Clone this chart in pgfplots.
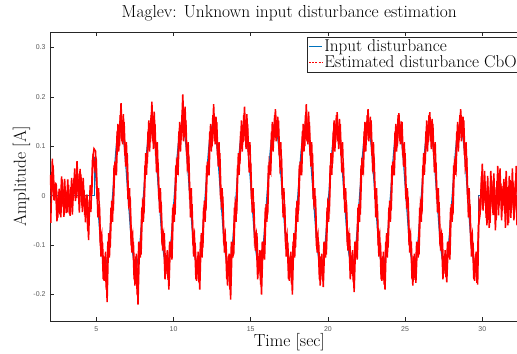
\documentclass[border=0pt]{standalone}
\usepackage{fontspec}
\usepackage{pgfplots}
\pgfplotsset{compat=1.18}
\newfontfamily\tickfont{Liberation Sans}
\definecolor{mblue}{RGB}{0,114,189}
\begin{document}
\begin{tikzpicture}
\clip (-50bp,-33bp) rectangle (467bp,321bp);
\begin{axis}[
  at={(0,0)}, anchor=south west,
  scale only axis, width=478.6bp, height=289bp,
  xmin=2, xmax=33, ymin=-0.2534, ymax=0.331,
  xtick={5,10,15,20,25,30}, xticklabels={5,10,15,20,25,30},
  ytick={-0.2,-0.1,0,0.1,0.2,0.3}, yticklabels={-0.2,-0.1,0,0.1,0.2,0.3},
  tick align=inside, major tick length=4.5bp,
  tick style={black!85, line width=0.5pt},
  axis line style={black!85, line width=0.6pt},
  ticklabel style={font=\tickfont\fontsize{7}{8}\selectfont, text=black!65},
  xticklabel style={yshift=-2bp},
  yticklabel style={xshift=-1bp},
  title={Maglev: Unknown input disturbance estimation},
  title style={font=\fontsize{17.5}{20}\selectfont, at={(axis description cs:0.5,1)}, anchor=base, yshift=8.5bp},
  xlabel={Time [sec]},
  xlabel style={font=\fontsize{17.5}{20}\selectfont, at={(axis description cs:0.5,0)}, anchor=base, yshift=-25.7bp},
  ylabel={Amplitude [A]},
  ylabel style={font=\fontsize{17.5}{20}\selectfont, at={(axis description cs:-0.0502,0.5)}, anchor=base},
  legend style={at={(axis description cs:0.537,0.984)}, anchor=north west, draw=black!85, line width=0.5pt,
    font=\fontsize{17.2}{19}\selectfont, inner sep=1.2bp, row sep=-1.5bp, cells={anchor=west}},
  legend image code/.code={\draw[#1] (0bp,0bp) -- (13bp,0bp);},
]
\addlegendimage{mblue, line width=0.9pt}
\addlegendentry{Input disturbance}
\addlegendimage{red, line width=0.6pt, dash pattern=on 2bp off 1.2bp}
\addlegendentry{Estimated disturbance CbO\rule{10bp}{0pt}}

\addplot[mblue, line width=1.1pt, forget plot] coordinates {(2,0) (4.87,0) (4.87,0.078)};
\addplot[mblue, line width=1.1pt, smooth, forget plot] coordinates {
(4.87,0.078)
(5.05,0)(5.3,-0.1025)(5.55,-0.145)(5.8,-0.1025)(6.05,0)(6.3,0.1025)(6.55,0.145)(6.8,0.1025)
(7.05,0)(7.3,-0.1025)(7.55,-0.145)(7.8,-0.1025)(8.05,0)(8.3,0.1025)(8.55,0.145)(8.8,0.1025)
(9.05,0)(9.3,-0.1025)(9.55,-0.145)(9.8,-0.1025)(10.05,0)(10.3,0.1025)(10.55,0.145)(10.8,0.1025)
(11.05,0)(11.3,-0.1025)(11.55,-0.145)(11.8,-0.1025)(12.05,0)(12.3,0.1025)(12.55,0.145)(12.8,0.1025)
(13.05,0)(13.3,-0.1025)(13.55,-0.145)(13.8,-0.1025)(14.05,0)(14.3,0.1025)(14.55,0.145)(14.8,0.1025)
(15.05,0)(15.3,-0.1025)(15.55,-0.145)(15.8,-0.1025)(16.05,0)(16.3,0.1025)(16.55,0.145)(16.8,0.1025)
(17.05,0)(17.3,-0.1025)(17.55,-0.145)(17.8,-0.1025)(18.05,0)(18.3,0.1025)(18.55,0.145)(18.8,0.1025)
(19.05,0)(19.3,-0.1025)(19.55,-0.145)(19.8,-0.1025)(20.05,0)(20.3,0.1025)(20.55,0.145)(20.8,0.1025)
(21.05,0)(21.3,-0.1025)(21.55,-0.145)(21.8,-0.1025)(22.05,0)(22.3,0.1025)(22.55,0.145)(22.8,0.1025)
(23.05,0)(23.3,-0.1025)(23.55,-0.145)(23.8,-0.1025)(24.05,0)(24.3,0.1025)(24.55,0.145)(24.8,0.1025)
(25.05,0)(25.3,-0.1025)(25.55,-0.145)(25.8,-0.1025)(26.05,0)(26.3,0.1025)(26.55,0.145)(26.8,0.1025)
(27.05,0)(27.3,-0.1025)(27.55,-0.145)(27.8,-0.1025)(28.05,0)(28.3,0.1025)(28.55,0.145)(28.8,0.1025)
(29.05,0)(29.3,-0.1025)(29.55,-0.145)(29.74,-0.12)};
\addplot[mblue, line width=1.1pt, forget plot] coordinates {(29.74,-0.12) (29.74,0) (33,0)};

\addplot[red, line width=1.5pt, forget plot] coordinates {
(2.0,0.042)(2.1,-0.001)(2.2,0.061)(2.3,-0.010)(2.4,0.025)(2.5,-0.045)(2.6,0.014)(2.7,-0.044)(2.8,0.033)(2.9,-0.043)
(3.0,0.012)(3.1,-0.034)(3.2,0.022)(3.3,-0.041)(3.4,0.036)(3.5,-0.010)(3.6,0.055)(3.7,-0.005)(3.8,0.044)(3.9,-0.034)
(4.0,0.043)(4.1,-0.033)(4.2,0.012)(4.3,-0.054)(4.4,0.002)(4.5,-0.090)(4.6,0.021)(4.7,0.000)(4.8,0.085)(4.9,0.055)
(5.0,0.069)(5.1,-0.044)(5.2,-0.017)(5.3,-0.123)(5.4,-0.095)(5.5,-0.172)(5.6,-0.113)(5.7,-0.215)(5.8,-0.076)(5.9,-0.105)
(6.0,-0.010)(6.1,-0.030)(6.2,0.069)(6.3,0.041)(6.4,0.145)(6.5,0.100)(6.6,0.187)(6.7,0.104)(6.8,0.149)(6.9,0.059)
(7.0,0.086)(7.1,-0.020)(7.2,-0.010)(7.3,-0.115)(7.4,-0.093)(7.5,-0.182)(7.6,-0.117)(7.7,-0.220)(7.8,-0.095)(7.9,-0.119)
(8.0,-0.013)(8.1,-0.026)(8.2,0.086)(8.3,0.065)(8.4,0.152)(8.5,0.108)(8.6,0.190)(8.7,0.094)(8.8,0.145)(8.9,0.047)
(9.0,0.067)(9.1,-0.034)(9.2,-0.013)(9.3,-0.111)(9.4,-0.076)(9.5,-0.158)(9.6,-0.110)(9.7,-0.190)(9.8,-0.093)(9.9,-0.129)
(10.0,-0.017)(10.1,-0.038)(10.2,0.067)(10.3,0.051)(10.4,0.149)(10.5,0.112)(10.6,0.205)(10.7,0.118)(10.8,0.152)(10.9,0.055)
(11.0,0.069)(11.1,-0.044)(11.2,-0.017)(11.3,-0.123)(11.4,-0.095)(11.5,-0.172)(11.6,-0.113)(11.7,-0.190)(11.8,-0.076)(11.9,-0.105)
(12.0,-0.010)(12.1,-0.030)(12.2,0.069)(12.3,0.041)(12.4,0.145)(12.5,0.100)(12.6,0.185)(12.7,0.104)(12.8,0.149)(12.9,0.059)
(13.0,0.086)(13.1,-0.020)(13.2,-0.010)(13.3,-0.115)(13.4,-0.093)(13.5,-0.182)(13.6,-0.117)(13.7,-0.210)(13.8,-0.095)(13.9,-0.119)
(14.0,-0.013)(14.1,-0.026)(14.2,0.086)(14.3,0.065)(14.4,0.152)(14.5,0.108)(14.6,0.180)(14.7,0.094)(14.8,0.145)(14.9,0.047)
(15.0,0.067)(15.1,-0.034)(15.2,-0.013)(15.3,-0.111)(15.4,-0.076)(15.5,-0.158)(15.6,-0.110)(15.7,-0.200)(15.8,-0.093)(15.9,-0.129)
(16.0,-0.017)(16.1,-0.038)(16.2,0.067)(16.3,0.051)(16.4,0.149)(16.5,0.112)(16.6,0.175)(16.7,0.118)(16.8,0.152)(16.9,0.055)
(17.0,0.069)(17.1,-0.044)(17.2,-0.017)(17.3,-0.123)(17.4,-0.095)(17.5,-0.172)(17.6,-0.113)(17.7,-0.200)(17.8,-0.076)(17.9,-0.105)
(18.0,-0.010)(18.1,-0.030)(18.2,0.069)(18.3,0.041)(18.4,0.145)(18.5,0.100)(18.6,0.185)(18.7,0.104)(18.8,0.149)(18.9,0.059)
(19.0,0.086)(19.1,-0.020)(19.2,-0.010)(19.3,-0.115)(19.4,-0.093)(19.5,-0.182)(19.6,-0.117)(19.7,-0.185)(19.8,-0.095)(19.9,-0.119)
(20.0,-0.013)(20.1,-0.026)(20.2,0.086)(20.3,0.065)(20.4,0.152)(20.5,0.108)(20.6,0.169)(20.7,0.094)(20.8,0.145)(20.9,0.047)
(21.0,0.067)(21.1,-0.034)(21.2,-0.013)(21.3,-0.111)(21.4,-0.076)(21.5,-0.158)(21.6,-0.110)(21.7,-0.195)(21.8,-0.093)(21.9,-0.129)
(22.0,-0.017)(22.1,-0.038)(22.2,0.067)(22.3,0.051)(22.4,0.149)(22.5,0.112)(22.6,0.175)(22.7,0.118)(22.8,0.152)(22.9,0.055)
(23.0,0.069)(23.1,-0.044)(23.2,-0.017)(23.3,-0.123)(23.4,-0.095)(23.5,-0.172)(23.6,-0.113)(23.7,-0.190)(23.8,-0.076)(23.9,-0.105)
(24.0,-0.010)(24.1,-0.030)(24.2,0.069)(24.3,0.041)(24.4,0.145)(24.5,0.100)(24.6,0.167)(24.7,0.104)(24.8,0.149)(24.9,0.059)
(25.0,0.086)(25.1,-0.020)(25.2,-0.010)(25.3,-0.115)(25.4,-0.093)(25.5,-0.182)(25.6,-0.117)(25.7,-0.176)(25.8,-0.095)(25.9,-0.119)
(26.0,-0.013)(26.1,-0.026)(26.2,0.086)(26.3,0.065)(26.4,0.152)(26.5,0.108)(26.6,0.169)(26.7,0.094)(26.8,0.145)(26.9,0.047)
(27.0,0.067)(27.1,-0.034)(27.2,-0.013)(27.3,-0.111)(27.4,-0.076)(27.5,-0.158)(27.6,-0.110)(27.7,-0.175)(27.8,-0.093)(27.9,-0.129)
(28.0,-0.017)(28.1,-0.038)(28.2,0.067)(28.3,0.051)(28.4,0.149)(28.5,0.112)(28.6,0.175)(28.7,0.118)(28.8,0.152)(28.9,0.055)
(29.0,0.069)(29.1,-0.044)(29.2,-0.017)(29.3,-0.123)(29.4,-0.095)(29.5,-0.172)(29.6,-0.113)(29.7,-0.180)(29.8,-0.009)(29.9,-0.020)
(30.0,0.065)(30.1,-0.015)(30.2,0.029)(30.3,-0.060)(30.4,0.018)(30.5,-0.055)(30.6,0.032)(30.7,-0.039)(30.8,0.017)(30.9,-0.050)
(31.0,0.060)(31.1,-0.020)(31.2,0.025)(31.3,-0.025)(31.4,0.034)(31.5,-0.065)(31.6,0.018)(31.7,-0.055)(31.8,0.032)(31.9,-0.029)
(32.0,0.027)(32.1,-0.026)(32.2,0.060)(32.3,-0.020)(32.4,0.025)(32.5,-0.030)};

\addplot[red, line width=1.5pt, forget plot] coordinates {
(2.05,-0.055)(2.15,0.075)(2.25,-0.009)(2.35,0.027)(2.45,-0.052)(2.55,0.008)(2.65,-0.038)(2.75,0.039)(2.85,-0.022)(2.95,0.034)
(3.05,-0.035)(3.15,0.033)(3.25,-0.036)(3.35,0.017)(3.45,-0.038)(3.55,0.035)(3.65,-0.011)(3.75,0.070)(3.85,-0.007)(3.95,0.054)
(4.05,-0.020)(4.15,0.036)(4.25,-0.039)(4.35,0.002)(4.45,-0.072)(4.55,-0.008)(4.65,-0.033)(4.75,0.071)(4.85,0.095)(4.95,0.090)
(5.05,-0.007)(5.15,0.015)(5.25,-0.090)(5.35,-0.076)(5.45,-0.169)(5.55,-0.123)(5.65,-0.190)(5.75,-0.093)(5.85,-0.125)(5.95,-0.024)
(6.05,-0.053)(6.15,0.061)(6.25,0.042)(6.35,0.130)(6.45,0.089)(6.55,0.163)(6.65,0.110)(6.75,0.165)(6.85,0.081)(6.95,0.108)
(7.05,-0.007)(7.15,0.015)(7.25,-0.090)(7.35,-0.076)(7.45,-0.169)(7.55,-0.123)(7.65,-0.200)(7.75,-0.093)(7.85,-0.125)(7.95,-0.024)
(8.05,-0.053)(8.15,0.061)(8.25,0.042)(8.35,0.130)(8.45,0.089)(8.55,0.163)(8.65,0.110)(8.75,0.170)(8.85,0.081)(8.95,0.108)
(9.05,-0.007)(9.15,0.015)(9.25,-0.090)(9.35,-0.076)(9.45,-0.169)(9.55,-0.123)(9.65,-0.170)(9.75,-0.093)(9.85,-0.125)(9.95,-0.024)
(10.05,-0.053)(10.15,0.061)(10.25,0.042)(10.35,0.130)(10.45,0.089)(10.55,0.163)(10.65,0.110)(10.75,0.180)(10.85,0.081)(10.95,0.108)
(11.05,-0.007)(11.15,0.015)(11.25,-0.090)(11.35,-0.076)(11.45,-0.169)(11.55,-0.123)(11.65,-0.175)(11.75,-0.093)(11.85,-0.125)(11.95,-0.024)
(12.05,-0.053)(12.15,0.061)(12.25,0.042)(12.35,0.130)(12.45,0.089)(12.55,0.163)(12.65,0.110)(12.75,0.160)(12.85,0.081)(12.95,0.108)
(13.05,-0.007)(13.15,0.015)(13.25,-0.090)(13.35,-0.076)(13.45,-0.169)(13.55,-0.123)(13.65,-0.190)(13.75,-0.093)(13.85,-0.125)(13.95,-0.024)
(14.05,-0.053)(14.15,0.061)(14.25,0.042)(14.35,0.130)(14.45,0.089)(14.55,0.163)(14.65,0.110)(14.75,0.165)(14.85,0.081)(14.95,0.108)
(15.05,-0.007)(15.15,0.015)(15.25,-0.090)(15.35,-0.076)(15.45,-0.169)(15.55,-0.123)(15.65,-0.180)(15.75,-0.093)(15.85,-0.125)(15.95,-0.024)
(16.05,-0.053)(16.15,0.061)(16.25,0.042)(16.35,0.130)(16.45,0.089)(16.55,0.163)(16.65,0.110)(16.75,0.160)(16.85,0.081)(16.95,0.108)
(17.05,-0.007)(17.15,0.015)(17.25,-0.090)(17.35,-0.076)(17.45,-0.169)(17.55,-0.123)(17.65,-0.180)(17.75,-0.093)(17.85,-0.125)(17.95,-0.024)
(18.05,-0.053)(18.15,0.061)(18.25,0.042)(18.35,0.130)(18.45,0.089)(18.55,0.163)(18.65,0.110)(18.75,0.170)(18.85,0.081)(18.95,0.108)
(19.05,-0.007)(19.15,0.015)(19.25,-0.090)(19.35,-0.076)(19.45,-0.169)(19.55,-0.123)(19.65,-0.170)(19.75,-0.093)(19.85,-0.125)(19.95,-0.024)
(20.05,-0.053)(20.15,0.061)(20.25,0.042)(20.35,0.130)(20.45,0.089)(20.55,0.163)(20.65,0.110)(20.75,0.155)(20.85,0.081)(20.95,0.108)
(21.05,-0.007)(21.15,0.015)(21.25,-0.090)(21.35,-0.076)(21.45,-0.169)(21.55,-0.123)(21.65,-0.175)(21.75,-0.093)(21.85,-0.125)(21.95,-0.024)
(22.05,-0.053)(22.15,0.061)(22.25,0.042)(22.35,0.130)(22.45,0.089)(22.55,0.163)(22.65,0.110)(22.75,0.160)(22.85,0.081)(22.95,0.108)
(23.05,-0.007)(23.15,0.015)(23.25,-0.090)(23.35,-0.076)(23.45,-0.169)(23.55,-0.123)(23.65,-0.180)(23.75,-0.093)(23.85,-0.125)(23.95,-0.024)
(24.05,-0.053)(24.15,0.061)(24.25,0.042)(24.35,0.130)(24.45,0.089)(24.55,0.163)(24.65,0.110)(24.75,0.150)(24.85,0.081)(24.95,0.108)
(25.05,-0.007)(25.15,0.015)(25.25,-0.090)(25.35,-0.076)(25.45,-0.169)(25.55,-0.123)(25.65,-0.170)(25.75,-0.093)(25.85,-0.125)(25.95,-0.024)
(26.05,-0.053)(26.15,0.061)(26.25,0.042)(26.35,0.130)(26.45,0.089)(26.55,0.163)(26.65,0.110)(26.75,0.155)(26.85,0.081)(26.95,0.108)
(27.05,-0.007)(27.15,0.015)(27.25,-0.090)(27.35,-0.076)(27.45,-0.169)(27.55,-0.123)(27.65,-0.165)(27.75,-0.093)(27.85,-0.125)(27.95,-0.024)
(28.05,-0.053)(28.15,0.061)(28.25,0.042)(28.35,0.130)(28.45,0.089)(28.55,0.163)(28.65,0.110)(28.75,0.160)(28.85,0.081)(28.95,0.108)
(29.05,-0.007)(29.15,0.015)(29.25,-0.090)(29.35,-0.076)(29.45,-0.169)(29.55,-0.123)(29.65,-0.176)(29.75,-0.060)(29.85,-0.040)(29.95,0.040)
(30.05,-0.030)(30.15,0.050)(30.25,-0.045)(30.35,0.040)(30.45,-0.065)(30.55,0.050)(30.65,-0.020)(30.75,0.045)(30.85,-0.070)(30.95,0.030)
(31.05,-0.040)(31.15,0.055)(31.25,-0.050)(31.35,0.020)(31.45,-0.035)(31.55,0.050)(31.65,-0.060)(31.75,0.040)(31.85,-0.045)(31.95,0.055)
(32.05,-0.050)(32.15,0.030)(32.25,-0.060)(32.35,0.045)(32.45,-0.040)};
\end{axis}
\end{tikzpicture}
\end{document}
